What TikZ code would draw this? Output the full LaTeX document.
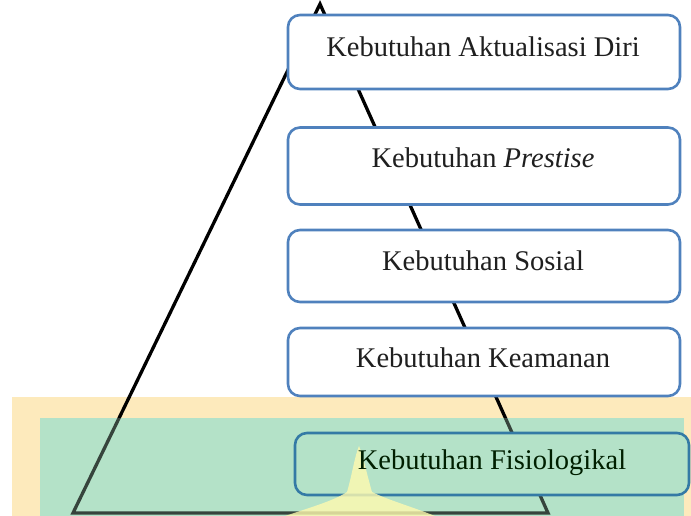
\documentclass[tikz,border=0pt]{standalone}
\usepackage{fontspec}
\setmainfont{Liberation Serif}
\begin{document}
\begin{tikzpicture}[x=1pt,y=-1pt,
  box/.style={draw=boxblue,line width=2.6pt,rounded corners=12pt,fill=white,minimum width=392pt,inner sep=0pt},
  lbl/.style={font=\fontsize{28.5}{31}\selectfont,text=black!88,inner sep=0pt,anchor=center},
  tri/.style={line width=3.3pt,line join=miter}]
\definecolor{boxblue}{RGB}{79,129,189}
\definecolor{cream}{RGB}{253,234,188}
\definecolor{mint}{RGB}{180,226,200}
\definecolor{blob}{RGB}{255,250,175}
\definecolor{box5}{RGB}{52,122,165}
\useasboundingbox (0,0) rectangle (691,516);
% background bands
\fill[cream] (12,397) rectangle (691,516);
\fill[mint] (40,418) rectangle (684,516);
% triangle
\coordinate (apex) at (320,4);
\coordinate (bl) at (73,513);
\coordinate (br) at (548,513);
\draw[tri] (bl) -- (apex) -- (br) -- cycle;
\fill[mint,opacity=0.3] (40,418) rectangle (684,516);
% boxes
\node[box,minimum height=74pt] (b1) at (484,52) {};
\node[lbl] (t1) at (483,47) {Kebutuhan Aktualisasi Diri};
\node[box,minimum height=77pt] (b2) at (484,166) {};
\node[lbl] (t2) at (483,158) {Kebutuhan \textit{Prestise}};
\node[box,minimum height=72pt] (b3) at (484,266) {};
\node[lbl] (t3) at (483,261) {Kebutuhan Sosial};
\node[box,minimum height=68pt] (b4) at (484,362) {};
\node[lbl] (t4) at (483,358) {Kebutuhan Keamanan};
\node[box,draw=box5,fill=mint,minimum width=394pt,minimum height=62pt] (b5) at (492,464) {};
% light glare
\fill[blob,opacity=0.8] (285,516) .. controls (315,506) and (335,500) .. (347,492)
  .. controls (352,475) and (355,455) .. (359,446)
  .. controls (363,455) and (367,475) .. (372,492)
  .. controls (388,500) and (410,506) .. (435,516) -- cycle;
\node[lbl,text=black!80!green!60!black] (t5) at (492,463) {Kebutuhan Fisiologikal};
\end{tikzpicture}
\end{document}
